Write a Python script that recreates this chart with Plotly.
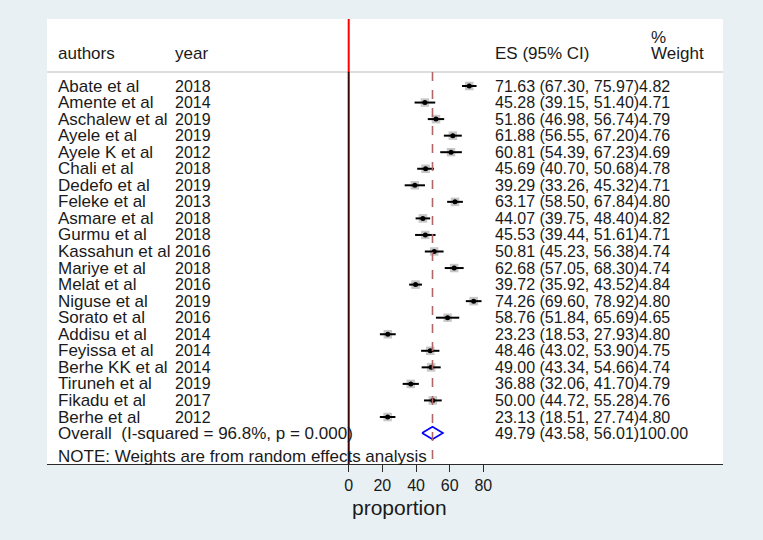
import plotly.graph_objects as go

# ---------------- data ----------------
authors = ["Abate et al", "Amente et al", "Aschalew et al", "Ayele et al", "Ayele K et al",
           "Chali et al", "Dedefo et al", "Feleke et al", "Asmare et al", "Gurmu et al",
           "Kassahun et al", "Mariye et al", "Melat et al", "Niguse et al", "Sorato et al",
           "Addisu et al", "Feyissa et al", "Berhe KK et al", "Tiruneh et al", "Fikadu et al",
           "Berhe et al"]
years = ["2018", "2014", "2019", "2019", "2012", "2018", "2019", "2013", "2018", "2018",
         "2016", "2018", "2016", "2019", "2016", "2014", "2014", "2014", "2019", "2017", "2012"]
es = [71.63, 45.28, 51.86, 61.88, 60.81, 45.69, 39.29, 63.17, 44.07, 45.53,
      50.81, 62.68, 39.72, 74.26, 58.76, 23.23, 48.46, 49.00, 36.88, 50.00, 23.13]
lower = [67.30, 39.15, 46.98, 56.55, 54.39, 40.70, 33.26, 58.50, 39.75, 39.44,
         45.23, 57.05, 35.92, 69.60, 51.84, 18.53, 43.02, 43.34, 32.06, 44.72, 18.51]
upper = [75.97, 51.40, 56.74, 67.20, 67.23, 50.68, 45.32, 67.84, 48.40, 51.61,
         56.38, 68.30, 43.52, 78.92, 65.69, 27.93, 53.90, 54.66, 41.70, 55.28, 27.74]
weights = [4.82, 4.71, 4.79, 4.76, 4.69, 4.78, 4.71, 4.80, 4.82, 4.71,
           4.74, 4.74, 4.84, 4.80, 4.65, 4.80, 4.75, 4.74, 4.79, 4.76, 4.80]
overall_label = "Overall  (I-squared = 96.8%, p = 0.000)"
overall_es, overall_lo, overall_hi, overall_w = 49.79, 43.58, 56.01, 100.00
note_text = "NOTE: Weights are from random effects analysis"
x_ticks = [0, 20, 40, 60, 80]
x_title = "proportion"

# ---------------- layout helpers ----------------
W, H = 763, 540
L, R, T, B = 47, 40, 19, 76
ZERO_PX, SCALE = 348.7, 1.683          # pixel of x=0, pixels per unit
ROW0_PX, ROW_H = 86, 16.55            # pixel of first row, row height
BG = "#e9f0f3"


def px2x(px):
    return (px - ZERO_PX) / SCALE


def py2y(py):
    return (py - ROW0_PX) / ROW_H


x_range = [px2x(L), px2x(W - R)]
y_range = [py2y(H - B), py2y(T)]      # reversed

FONT = "Liberation Sans, Arial, sans-serif"
FS_LABEL = 17
FS_NUM = 16

n = len(authors)
rows = list(range(n))
y_overall = py2y(433)
y_note = py2y(456)
y_header = py2y(53)
y_pct = py2y(37)
y_hline = py2y(72)

fig = go.Figure()

# weight boxes (gray squares)
fig.add_trace(go.Scatter(
    x=es, y=rows, mode="markers",
    marker=dict(symbol="square", size=[3.9 * w ** 0.5 for w in weights],
                color="rgba(140,140,140,0.7)", line=dict(width=0)),
    hoverinfo="skip", showlegend=False))

# CIs + point estimates
fig.add_trace(go.Scatter(
    x=es, y=rows, mode="markers",
    marker=dict(symbol="circle", size=5, color="black"),
    error_x=dict(type="data", symmetric=False,
                 array=[u - e for u, e in zip(upper, es)],
                 arrayminus=[e - l for e, l in zip(es, lower)],
                 color="black", thickness=2, width=0),
    showlegend=False))

# overall diamond
fig.add_trace(go.Scatter(
    x=[overall_lo, overall_es, overall_hi, overall_es, overall_lo],
    y=[y_overall, y_overall - 0.38, y_overall, y_overall + 0.38, y_overall],
    mode="lines", line=dict(color="#0000ff", width=1.6),
    showlegend=False, hoverinfo="skip"))

shapes = [
    # header separator
    dict(type="line", xref="paper", x0=0, x1=1, yref="y", y0=y_hline, y1=y_hline,
         line=dict(color="#d2d2d2", width=1.5)),
    # red line above header
    dict(type="line", xref="x", x0=0, x1=0, yref="y", y0=y_range[1], y1=y_hline,
         line=dict(color="#ff0000", width=2)),
    # null line
    dict(type="line", xref="x", x0=0, x1=0, yref="y", y0=y_hline, y1=y_range[0],
         line=dict(color="#3a0606", width=2)),
    # overall effect dashed line
    dict(type="line", xref="x", x0=overall_es, x1=overall_es, yref="y",
         y0=y_hline, y1=y_range[0],
         line=dict(color="#b06666", width=1.6, dash="dash")),
]

ann = []
x_auth, x_year, x_es, x_wt = px2x(56), px2x(172.5), px2x(492.5), px2x(649)


def add_text(x, y, text, size):
    ann.append(dict(x=x, y=y, xref="x", yref="y", text=text, showarrow=False,
                    xanchor="left", yanchor="middle", align="left",
                    font=dict(family=FONT, size=size, color="#1a1a1a")))


add_text(x_auth, y_header, "authors", FS_LABEL)
add_text(x_year, y_header, "year", FS_LABEL)
add_text(x_es, y_header, "ES (95% CI)", FS_LABEL)
add_text(x_wt, y_pct, "%", FS_LABEL)
add_text(x_wt, y_header, "Weight", FS_LABEL)

for i in range(n):
    add_text(x_auth, rows[i], authors[i], FS_LABEL)
    add_text(x_year, rows[i], years[i], FS_NUM)
    add_text(x_es, rows[i], f"{es[i]:.2f} ({lower[i]:.2f}, {upper[i]:.2f}){weights[i]:.2f}", FS_NUM)

add_text(x_auth, y_overall, overall_label, FS_LABEL)
add_text(x_es, y_overall, f"{overall_es:.2f} ({overall_lo:.2f}, {overall_hi:.2f}){overall_w:.2f}", FS_NUM)
add_text(x_auth, y_note, note_text, FS_LABEL)

# axis title
ann.append(dict(x=30, y=1 - (508 - T) / (H - T - B), xref="x", yref="paper", text=x_title,
                showarrow=False, xanchor="center", yanchor="middle",
                font=dict(family=FONT, size=21, color="#1a1a1a")))

fig.update_layout(
    width=W, height=H,
    margin=dict(l=L, r=R, t=T, b=B, pad=0),
    paper_bgcolor=BG, plot_bgcolor="white",
    shapes=shapes, annotations=ann,
    xaxis=dict(range=x_range, tickvals=x_ticks, ticktext=[str(t) for t in x_ticks],
               showgrid=False, zeroline=False, showline=True, linecolor="#2a2a2a",
               linewidth=1, ticks="outside", ticklen=7, tickcolor="#2a2a2a", tickwidth=1,
               tickfont=dict(family=FONT, size=16, color="#1a1a1a"), fixedrange=True),
    yaxis=dict(range=y_range, showgrid=False, zeroline=False, showticklabels=False,
               showline=False, ticks="", fixedrange=True),
    font=dict(family=FONT),
)

fig.write_html(
    "out.html",
    config={"displayModeBar": False},
    post_script=f"document.body.style.margin='0';document.body.style.background='{BG}';",
)
